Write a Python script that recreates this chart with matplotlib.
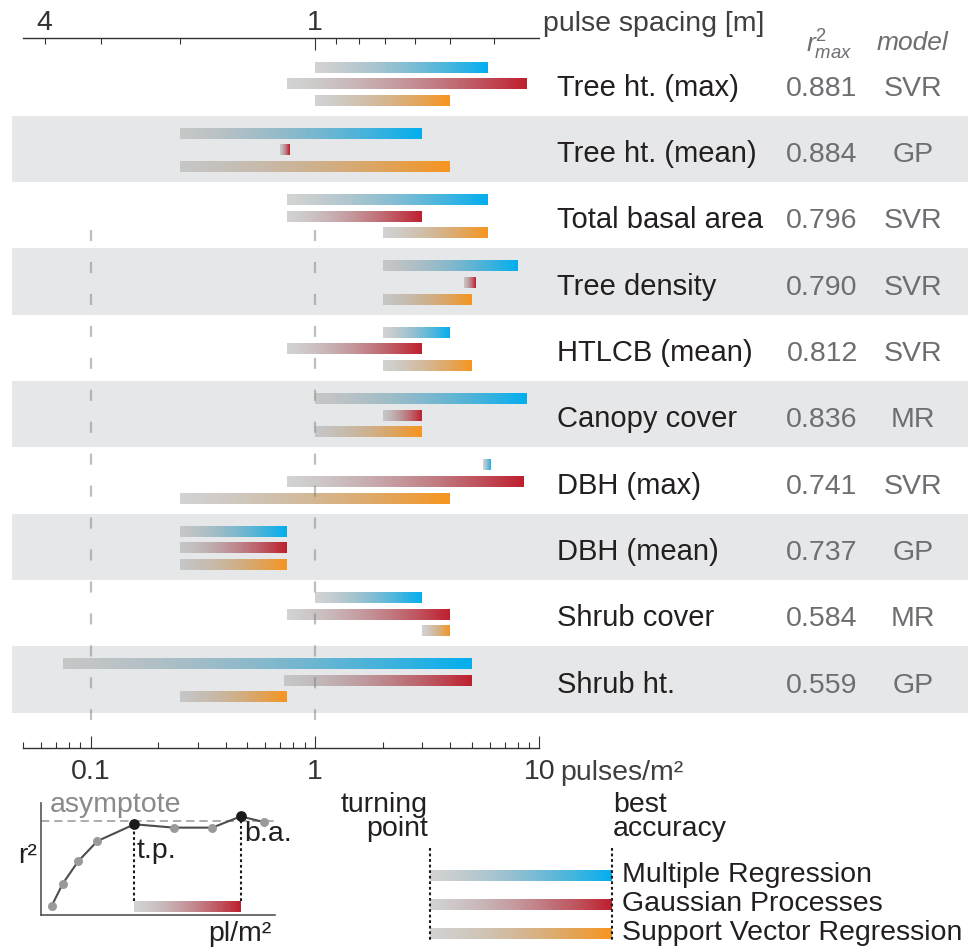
import numpy as np
import matplotlib
matplotlib.use('Agg')
import matplotlib.pyplot as plt
from matplotlib import transforms
from matplotlib.colors import to_rgb

plt.rcParams['font.family'] = ['Liberation Sans', 'DejaVu Sans']
plt.rcParams['mathtext.fontset'] = 'custom'
plt.rcParams['mathtext.rm'] = 'Liberation Sans'
plt.rcParams['mathtext.it'] = 'Liberation Sans:italic'
plt.rcParams['lines.scale_dashes'] = False

# data
variables = ['Tree ht. (max)', 'Tree ht. (mean)', 'Total basal area', 'Tree density',
             'HTLCB (mean)', 'Canopy cover', 'DBH (max)', 'DBH (mean)',
             'Shrub cover', 'Shrub ht.']
r2_max = ['0.881', '0.884', '0.796', '0.790', '0.812', '0.836', '0.741', '0.737', '0.584', '0.559']
best_model = ['SVR', 'GP', 'SVR', 'SVR', 'SVR', 'MR', 'SVR', 'GP', 'MR', 'GP']

# turning point -> best accuracy (pulses/m2)
mr_start = [1.0, 0.25, 0.75, 2.0, 2.0, 1.0, 5.6, 0.25, 1.0, 0.075]
mr_end = [5.9, 3.0, 5.9, 8.0, 4.0, 8.8, 6.1, 0.75, 3.0, 5.0]
gp_start = [0.75, 0.70, 0.75, 4.6, 0.75, 2.0, 0.75, 0.25, 0.75, 0.73]
gp_end = [8.8, 0.77, 3.0, 5.2, 3.0, 3.0, 8.5, 0.75, 4.0, 5.0]
svr_start = [1.0, 0.25, 2.0, 2.0, 2.0, 1.0, 0.25, 0.25, 3.0, 0.25]
svr_end = [4.0, 4.0, 5.9, 5.0, 5.0, 3.0, 4.0, 0.75, 4.0, 0.75]

model_names = ['Multiple Regression', 'Gaussian Processes', 'Support Vector Regression']
model_colors = ['#00aeef', '#be1e2d', '#f7941d']

density_ticks = [0.1, 1, 10]
density_labels = ['0.1', '1', '10']
spacing_major = [1]
spacing_minor = [4, 3, 2, 0.9, 0.8, 0.7, 0.6, 0.5, 0.4]
spacing_minor_labels = ['4', '', '', '', '', '', '', '', '']
grid_x = [0.1, 1]

# schematic inset
curve_x = [0.46, 0.93, 1.59, 2.41, 3.99, 5.68, 7.32, 8.53, 9.53]
curve_y = [0.083, 0.28, 0.48, 0.66, 0.81, 0.78, 0.78, 0.88, 0.83]
tp_idx, ba_idx = 4, 7
asymptote = 0.84

W, H = 968, 951
band = '#e6e7e8'
dark = '#231f20'
gray_txt = '#6d6e71'


def gradient_bar(axis, x0, x1, y, h, end_color, bg, n=90, log=True):
    edges = np.geomspace(x0, x1, n + 1) if log else np.linspace(x0, x1, n + 1)
    t = (np.arange(n) + 0.5) / n
    start = np.array([163, 163, 163]) / 255
    end = np.array(to_rgb(end_color))
    a = 0.48 + 0.52 * t
    col = start + (end - start) * (t ** 1.3)[:, None]
    rgb = a[:, None] * col + (1 - a[:, None]) * np.array(to_rgb(bg))
    axis.barh(np.full(n, y), np.diff(edges), left=edges[:-1], height=h,
              color=rgb, linewidth=0, antialiased=False, zorder=2)


fig = plt.figure(figsize=(W / 100, H / 100), dpi=100)
ax = fig.add_axes([23 / W, 1 - 748 / H, 516.5 / W, 710 / H])
ax.set_xscale('log')
ax.set_xlim(0.05, 10)
ax.set_ylim(10.035, -0.673)
ax.patch.set_visible(False)

for i in range(len(variables)):
    bg = band if i % 2 else 'white'
    if i % 2:
        ax.axhspan(i - 0.5, i + 0.5, xmin=-11 / 516.5, xmax=945 / 516.5,
                   color=band, lw=0, clip_on=False, zorder=0)
    starts = [mr_start[i], gp_start[i], svr_start[i]]
    ends = [mr_end[i], gp_end[i], svr_end[i]]
    for k, off in enumerate([-0.235, 0.015, 0.265]):
        gradient_bar(ax, starts[k], ends[k], i + off, 0.166, model_colors[k], bg)

ax.vlines(grid_x, 2.22, 9.61, color='#808080', alpha=0.5, lw=1.6,
          linestyles=[(0, (8, 15))], zorder=3)

for s in ['left', 'right', 'top']:
    ax.spines[s].set_visible(False)
ax.spines['bottom'].set_color('#333333')
ax.spines['bottom'].set_linewidth(1.0)
ax.set_yticks([])
ax.set_xticks(density_ticks, density_labels)
ax.tick_params(axis='x', which='major', direction='in', length=8.3, width=0.8,
               labelsize=20.5, colors='#333333', pad=8)
ax.tick_params(axis='x', which='minor', direction='in', length=4, width=0.8, colors='#333333')

# top axis: pulse spacing
top = ax.twiny()
top.set_xscale('log')
top.set_xlim(ax.get_xlim())
top.set_xticks([1 / s ** 2 for s in spacing_major], [str(s) for s in spacing_major])
top.set_xticks([1 / s ** 2 for s in spacing_minor], spacing_minor_labels, minor=True)
for s in ['left', 'right', 'bottom']:
    top.spines[s].set_visible(False)
top.spines['top'].set_color('#333333')
top.spines['top'].set_linewidth(1.0)
top.tick_params(axis='x', which='both', direction='in', width=0.8, colors='#333333',
                labelsize=20.5, pad=1.5)
top.tick_params(axis='x', which='major', length=8.3)
top.tick_params(axis='x', which='minor', length=4.3)

fig.text(543 / W, 1 - 31 / H, 'pulse spacing [m]', fontsize=20.5, color='#404040', va='baseline')
fig.text(560 / W, 1 - 780 / H, 'pulses/m²', fontsize=20.5, color='#404040', va='baseline')
fig.text(829 / W, 1 - 45 / H, r'$r^2_{max}$', fontsize=19, color=gray_txt, ha='center', va='center')
fig.text(912 / W, 1 - 43 / H, 'model', fontsize=19, color=gray_txt, style='italic',
         ha='center', va='center')

trans = transforms.blended_transform_factory(fig.transFigure, ax.transData)
for i, name in enumerate(variables):
    ax.text(557 / W, i + 0.2, name, transform=trans, fontsize=21, color=dark, va='baseline')
    ax.text(822 / W, i + 0.2, r2_max[i], transform=trans, fontsize=20.5, color=gray_txt,
            va='baseline', ha='center')
    ax.text(913 / W, i + 0.2, best_model[i], transform=trans, fontsize=20.5, color=gray_txt,
            va='baseline', ha='center')

# schematic inset
ins = fig.add_axes([41 / W, 1 - 915 / H, 234 / W, 112 / H])
ins.set_xlim(0, 10)
ins.set_ylim(0, 1)
ins.patch.set_visible(False)
for s in ['right', 'top']:
    ins.spines[s].set_visible(False)
for s in ['left', 'bottom']:
    ins.spines[s].set_color('#555555')
    ins.spines[s].set_linewidth(1.2)
ins.set_xticks([])
ins.set_yticks([])
ins.axhline(asymptote, color='#a7a7a7', lw=1.3, dashes=(6, 3.5), zorder=1)
ins.plot(curve_x, curve_y, color='#4d4d4d', lw=1.5, zorder=2)
ins.scatter(curve_x, curve_y, s=42, color='#9a9a9a', zorder=3, linewidths=0)
ins.scatter([curve_x[tp_idx], curve_x[ba_idx]], [curve_y[tp_idx], curve_y[ba_idx]],
            s=60, color='#1a1a1a', zorder=4, linewidths=0)
ins.vlines([curve_x[tp_idx], curve_x[ba_idx]], 0.128, [curve_y[tp_idx], curve_y[ba_idx]],
           color='#1a1a1a', lw=1.5, linestyles=[(0, (2, 2))], zorder=1)
gradient_bar(ins, curve_x[tp_idx], curve_x[ba_idx], 0.079, 0.098, model_colors[1], 'white', log=False)
ins.text(0.38, 0.92, 'asymptote', fontsize=20.5, color='#8a8a8a', va='baseline', clip_on=False)
ins.text(4.1, 0.51, 't.p.', fontsize=20.5, color=dark, va='baseline', clip_on=False)
ins.text(8.7, 0.66, 'b.a.', fontsize=20.5, color=dark, va='baseline', clip_on=False)
ins.text(8.5, -0.23, 'pl/m²', fontsize=20.5, color=dark, va='baseline', ha='center', clip_on=False)
ins.text(-0.57, 0.464, 'r²', fontsize=20.5, color=dark, va='baseline', ha='center', clip_on=False)

# legend
leg = fig.add_axes([330 / W, 0, 638 / W, 180 / H])
leg.set_xlim(330, 968)
leg.set_ylim(951, 771)
leg.axis('off')
for k, (name, color) in enumerate(zip(model_names, model_colors)):
    y = 875 + 29 * k
    gradient_bar(leg, 430, 612, y, 11, color, 'white', log=False)
    leg.text(622, y, name, fontsize=20.5, color=dark, va='center')
leg.vlines([430, 612], 848, 940, color='#1a1a1a', lw=1.5, linestyles=[(0, (2, 2))], zorder=3)
leg.text(428, 817, 'turning\npoint', fontsize=20.5, color=dark, ha='right', va='center',
         multialignment='right', linespacing=0.95)
leg.text(613, 817, 'best\naccuracy', fontsize=20.5, color=dark, ha='left', va='center',
         linespacing=0.95)

fig.savefig('out.png', dpi=100)
